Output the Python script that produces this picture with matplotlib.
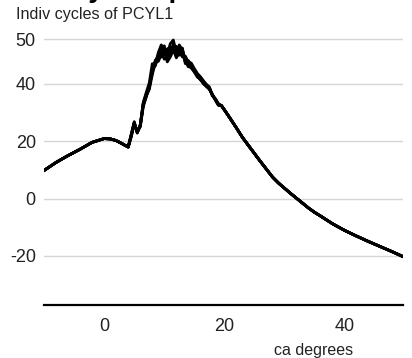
import matplotlib
matplotlib.use("Agg")
import matplotlib.pyplot as plt
import numpy as np

plt.rcParams['font.family'] = ['Liberation Sans', 'DejaVu Sans']

# shared part of every cycle before combustion
x_left = [-10, -8, -6, -4, -2, 0, 1, 2, 3, 3.5]
p_left = [9.8, 12.6, 15.0, 17.2, 19.6, 20.9, 20.8, 20.2, 19.1, 18.5]

# combustion region, each cycle differs
x_mid = [4.0, 4.5, 5.0, 5.5, 6.0, 6.5, 7.0, 7.5, 8.0, 8.5, 9.0, 9.5, 10.0, 10.5, 11.0, 11.5,
         12.0, 12.5, 13.0, 13.5, 14.0, 14.5, 15.0, 15.5, 16.0, 16.5, 17.0, 17.5, 18.0, 18.5, 19.0]
cycle1 = [18.0, 22.0, 26.4, 23.0, 25.5, 33.0, 36.0, 38.5, 43.5, 44.5, 46.0, 48.5, 48.0, 46.5, 49.0, 49.8,
          47.0, 48.7, 47.5, 45.5, 44.5, 44.2, 43.0, 42.0, 41.3, 40.4, 39.4, 38.6, 36.0, 34.6, 32.8]
cycle2 = [17.9, 21.5, 26.0, 23.4, 25.0, 32.0, 35.5, 39.5, 42.5, 45.3, 45.0, 46.5, 47.2, 44.9, 46.0, 47.5,
          46.0, 46.8, 46.2, 46.0, 44.0, 43.5, 42.6, 41.5, 41.0, 40.0, 39.0, 38.2, 36.4, 34.2, 32.5]
cycle3 = [18.1, 22.5, 26.8, 22.8, 25.8, 33.5, 37.0, 40.2, 44.5, 44.0, 47.0, 48.7, 46.5, 47.8, 48.2, 47.0,
          48.4, 46.4, 48.0, 44.8, 45.0, 44.6, 43.4, 42.3, 41.6, 40.7, 39.8, 38.9, 35.8, 34.8, 33.1]
cycle4 = [18.0, 21.8, 26.2, 23.2, 25.2, 32.5, 35.8, 38.0, 42.0, 44.8, 45.5, 47.0, 45.5, 46.0, 47.0, 48.5,
          45.8, 47.2, 46.8, 45.0, 43.8, 43.9, 42.8, 41.8, 40.9, 40.2, 39.2, 38.0, 36.2, 34.4, 32.6]
cycle5 = [18.1, 22.2, 26.5, 23.0, 25.6, 33.2, 36.4, 39.0, 43.0, 45.0, 46.5, 47.8, 48.5, 45.5, 48.0, 48.2,
          47.5, 48.0, 46.0, 46.2, 44.8, 44.0, 43.2, 42.2, 41.0, 40.5, 39.6, 38.4, 36.1, 34.5, 32.9]
cycle6 = [17.9, 21.9, 26.1, 23.3, 25.3, 32.8, 35.6, 38.8, 42.8, 44.2, 45.8, 46.0, 47.5, 46.8, 46.5, 49.0,
          46.5, 47.0, 47.8, 44.5, 45.2, 43.7, 42.9, 41.7, 41.4, 40.1, 39.5, 38.5, 35.9, 34.7, 32.7]
cycles = [cycle1, cycle2, cycle3, cycle4, cycle5, cycle6]

# shared expansion stroke
x_right = [19.5, 20, 21, 22, 23, 24, 25, 26, 27, 28, 29, 30, 31, 32, 33, 34, 35, 36,
           38, 40, 42, 44, 46, 48, 50]
p_right = [32.4, 30.9, 27.8, 24.6, 21.3, 18.5, 15.7, 12.9, 10.2, 7.5, 5.4, 3.6, 1.8, 0.1, -1.6, -3.3, -4.8, -6.1,
           -8.8, -11.1, -13.1, -15.0, -16.8, -18.6, -20.5]

y_ticks = [50, 40, 20, 0, -20]
x_ticks = [0, 20, 40]

# the y axis is stretched above 40
k = 1.557
def fwd(v):
    v = np.asarray(v, dtype=float)
    return np.where(v <= 40, v, 40 + (v - 40) * k)
def inv(u):
    u = np.asarray(u, dtype=float)
    return np.where(u <= 40, u, 40 + (u - 40) / k)

fig = plt.figure(figsize=(4.12, 3.58), dpi=100)
ax = fig.add_axes([0.107, 0.148, 0.871, 0.754])
ax.set_yscale('function', functions=(fwd, inv))

for c in cycles:
    xs = x_left + x_mid + x_right
    ys = p_left + c + p_right
    ax.plot(xs, ys, color='black', lw=2.0, solid_joinstyle='round')

ax.set_xlim(-10, 49.7)
ax.set_ylim(-37.1, 50.9)
ax.set_yticks(y_ticks)
ax.set_yticklabels([str(t) for t in y_ticks])
ax.set_xticks(x_ticks)
ax.grid(axis='y', color='#d6d6d6', lw=1)
ax.set_axisbelow(True)
for s in ['top', 'right', 'left']:
    ax.spines[s].set_visible(False)
ax.spines['bottom'].set_linewidth(1.6)
ax.tick_params(axis='both', length=0, labelsize=13, colors='#222222')
ax.tick_params(axis='y', pad=6)
ax.tick_params(axis='x', pad=9)

fig.text(353 / 412, 1 - 350 / 358, "ca degrees", ha='right', va='center', fontsize=11.5, color='#222222')
fig.text(16 / 412, 1 - 15 / 358, "Indiv cycles of PCYL1", ha='left', va='center', fontsize=11.6, color='#222222')
fig.text(16 / 412, 1 + 3 / 358, "Mostly comparable", ha='left', va='baseline', fontsize=20, fontweight='bold')

fig.savefig('out.png', dpi=100)
